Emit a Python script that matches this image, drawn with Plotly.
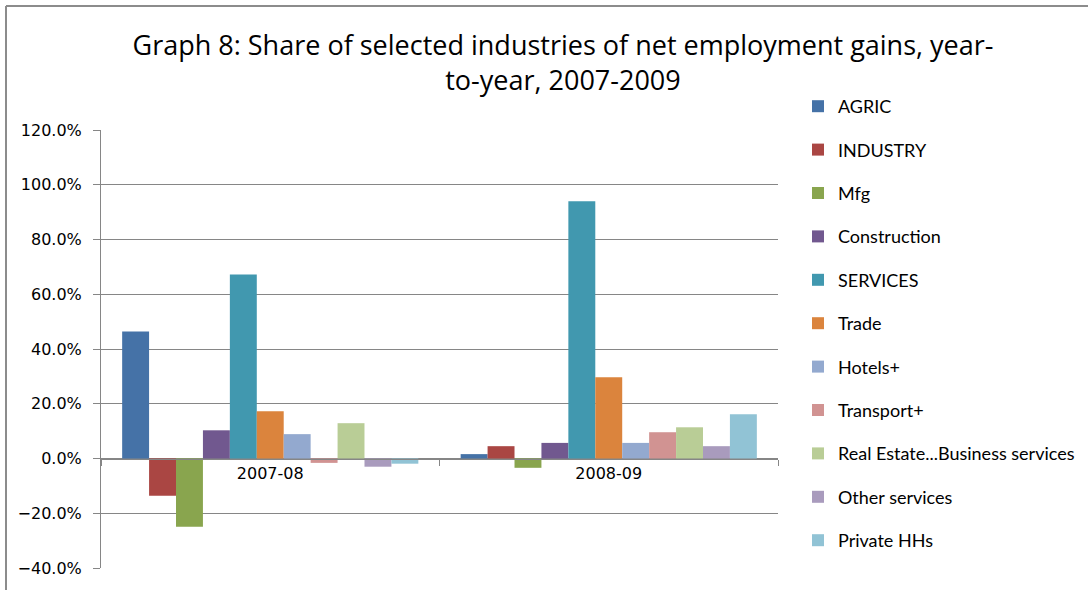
import plotly.graph_objects as go

categories = ["2007-08", "2008-09"]
series_names = ["AGRIC", "INDUSTRY", "Mfg", "Construction", "SERVICES", "Trade",
                "Hotels+", "Transport+", "Real Estate...Business services",
                "Other services", "Private HHs"]
values_2007_08 = [0.464, -0.136, -0.249, 0.103, 0.672, 0.173, 0.089, -0.016, 0.129, -0.030, -0.019]
values_2008_09 = [0.016, 0.045, -0.034, 0.057, 0.940, 0.297, 0.057, 0.096, 0.114, 0.045, 0.162]
colors = ["#4572A7", "#AA4643", "#89A54E", "#71588F", "#4198AF", "#DB843D",
          "#93A9CF", "#D19392", "#B9CD96", "#A99BBD", "#91C3D5"]

W, H = 1089, 590
L, R, T, B = 101, 311, 130, 22
pw, ph = W - L - R, H - T - B

fig = go.Figure()
for i, name in enumerate(series_names):
    fig.add_trace(go.Bar(
        x=categories, y=[values_2007_08[i], values_2008_09[i]], name=name,
        marker=dict(color=colors[i], line=dict(width=0)), legendgroup=name,
    ))

grid = "#868686"
fig.update_layout(
    width=W, height=H,
    margin=dict(l=L, r=R, t=T, b=B, autoexpand=False),
    paper_bgcolor="white", plot_bgcolor="white",
    barmode="group", bargap=0.125, bargroupgap=0,
    title=dict(
        text="Graph 8: Share of selected industries of net employment gains, year-<br>to-year, 2007-2009",
        x=563 / W, xref="container", xanchor="center",
        y=1 - 55 / H, yref="container", yanchor="top",
        font=dict(family="Open Sans", size=27, color="black"),
    ),
    legend=dict(
        x=(798 - L) / pw, xanchor="left", y=1 + (T - 88) / ph, yanchor="top",
        font=dict(family="Lato", size=18, color="black"),
        tracegroupgap=17, traceorder="grouped", bgcolor="rgba(0,0,0,0)",
        maxheight=590,
    ),
    xaxis=dict(
        type="category", anchor="free", position=0.25, showgrid=False,
        showline=True, linecolor=grid, linewidth=1,
        ticks="outside", tickson="boundaries", ticklen=6, tickcolor=grid,
        tickfont=dict(family="DejaVu Sans", size=16, color="black"),
    ),
    yaxis=dict(
        range=[-0.4, 1.2], dtick=0.2, tickformat=".1%",
        showgrid=True, gridcolor=grid, gridwidth=1, zeroline=False,
        showline=True, linecolor=grid, linewidth=1,
        ticks="outside", ticklen=7, tickcolor=grid, ticklabelstandoff=8,
        tickfont=dict(family="DejaVu Sans", size=16, color="black"),
    ),
    showlegend=True,
)

# outer chart frame (top and left edges)
x0 = (6 - L) / pw
x1 = (1088 - L) / pw
ytop = 1 + (T - 6) / ph
ybot = -(B + 5) / ph
fig.add_shape(type="line", xref="paper", yref="paper", x0=x0, x1=x1, y0=ytop, y1=ytop,
              line=dict(color="#8c8c8c", width=2))
fig.add_shape(type="line", xref="paper", yref="paper", x0=x0, x1=x0, y0=ytop, y1=ybot,
              line=dict(color="#8c8c8c", width=2))

fig.write_html("out.html")
